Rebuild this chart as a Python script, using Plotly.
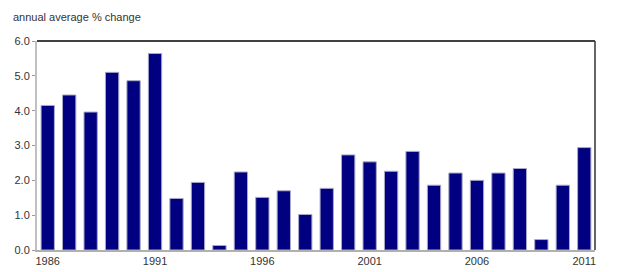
import plotly.graph_objects as go

years = [str(y) for y in range(1986, 2012)]
values = [4.15, 4.45, 3.96, 5.10, 4.86, 5.64, 1.48, 1.94, 0.13, 2.24, 1.51, 1.70, 1.02,
          1.77, 2.73, 2.53, 2.26, 2.83, 1.86, 2.21, 2.00, 2.21, 2.34, 0.30, 1.86, 2.94]
tick_labels = ["1986", "1991", "1996", "2001", "2006", "2011"]
y_ticks = [0, 1, 2, 3, 4, 5, 6]
y_tick_text = ["0.0", "1.0", "2.0", "3.0", "4.0", "5.0", "6.0"]

fig = go.Figure(go.Bar(
    x=years, y=values,
    marker=dict(color="#000080", line=dict(color="#a8a8c8", width=1)),
))

font = dict(family="Liberation Sans, Arial, sans-serif", size=11, color="#333333")

fig.update_layout(
    width=640, height=272,
    margin=dict(l=37, r=45, t=41, b=22, autoexpand=False),
    paper_bgcolor="white", plot_bgcolor="white",
    bargap=0.38,
    showlegend=False,
    font=font,
    xaxis=dict(
        type="category", tickmode="array", tickvals=tick_labels, ticktext=tick_labels,
        showline=True, linecolor="#b0b0b0", linewidth=2, showgrid=False,
        ticks="", tickfont=font, ticklabelstandoff=0,
    ),
    yaxis=dict(
        range=[0, 6], tickmode="array", tickvals=y_ticks, ticktext=y_tick_text,
        showline=True, linecolor="#c0c0c0", linewidth=2, showgrid=False,
        ticks="outside", ticklen=3, tickcolor="#999999", tickfont=font, zeroline=False,
    ),
    shapes=[
        dict(type="line", xref="paper", yref="paper", x0=0, x1=1, y0=1, y1=1,
             line=dict(color="black", width=1.5)),
        dict(type="line", xref="paper", yref="paper", x0=1, x1=1, y0=0, y1=1,
             line=dict(color="#333333", width=1.5)),
    ],
    annotations=[
        dict(text="annual average % change", xref="paper", yref="paper",
             x=-0.046, y=1.115, xanchor="left", yanchor="middle", showarrow=False,
             font=dict(family="Liberation Sans, Arial, sans-serif", size=11, color="#333333")),
    ],
)

fig.write_html("out.html")
